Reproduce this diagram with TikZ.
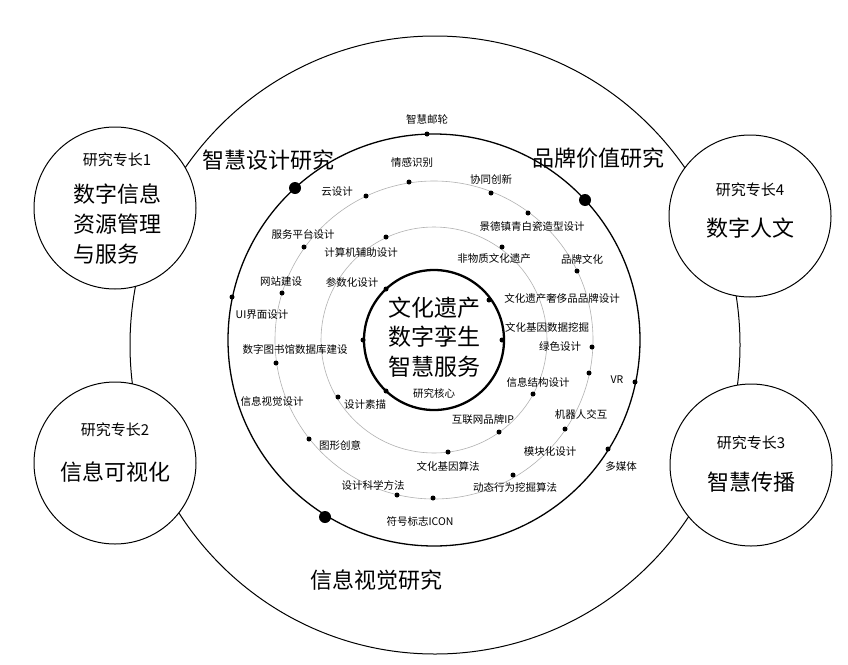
\documentclass[tikz,border=0pt]{standalone}
\usepackage{fontspec}
\setmainfont{Noto Sans CJK SC}
\begin{document}
\begin{tikzpicture}[x=1pt,y=-1pt,
  sm/.style={font=\fontsize{10.5}{12}\selectfont,inner sep=0pt},
  big/.style={font=\fontsize{22}{26}\selectfont,inner sep=0pt},
  tag/.style={font=\fontsize{15}{18}\selectfont,inner sep=0pt},
  side/.style={draw,circle,minimum size=162pt,fill=white,line width=1pt,inner sep=0pt},
  dot/.style={fill=black,draw=none,circle,minimum size=5pt,inner sep=0pt},
  bigdot/.style={fill=black,draw=none,circle,minimum size=12pt,inner sep=0pt}]
\useasboundingbox (0,0) rectangle (848,664);
\fill[white] (0,0) rectangle (848,664);
\coordinate (c) at (434,340);
\draw[line width=1pt] (435,345) ellipse [x radius=305, y radius=309];
\draw[line width=1.3pt] (c) circle [radius=206];
\draw[gray!60,line width=0.6pt] (c) circle [radius=159];
\draw[gray!60,line width=0.6pt] (c) circle [radius=113];
\draw[line width=2.3pt] (c) circle [radius=70];
% side circles
\node[side] (s1) at (115,208) {};
\node[side] (s2) at (115,463) {};
\node[side] (s4) at (750,216) {};
\node[side] (s3) at (751,465) {};
\node[tag] (s1t) at (117,160) {研究专长1};
\node[big,align=left,font=\fontsize{22}{30}\selectfont] (s1b) at (117,224) {数字信息\\资源管理\\与服务};
\node[tag] (s2t) at (115,430) {研究专长2};
\node[big] (s2b) at (115,472) {信息可视化};
\node[tag] (s4t) at (750,190) {研究专长4};
\node[big] (s4b) at (750,228) {数字人文};
\node[tag] (s3t) at (751,443) {研究专长3};
\node[big] (s3b) at (751,482) {智慧传播};
% region titles
\node[big] (r1) at (268,160) {智慧设计研究};
\node[big] (r2) at (598,158) {品牌价值研究};
\node[big] (r3) at (376,580) {信息视觉研究};
% core
\node[big,align=center,font=\fontsize{23}{29.5}\selectfont] (core) at (434,337) {文化遗产\\数字孪生\\智慧服务};
\node[sm] (hx) at (434,393) {研究核心};
% outer black circle dots
\node[dot] (d1) at (427,134) {}; \node[sm] at (427,119) {智慧邮轮};
\node[bigdot] (b1) at (295,188) {};
\node[bigdot] (b2) at (585,200) {};
\node[bigdot] (b3) at (325,517) {};
\node[dot] (d2) at (232,297) {}; \node[sm] at (262,315) {UI界面设计};
\node[dot] (d3) at (635,382) {}; \node[sm] at (617,380) {VR};
\node[dot] (d4) at (608,449) {}; \node[sm] at (621,467) {多媒体};
% outer grey dots
\node[dot] at (409,182) {}; \node[sm] at (412,163) {情感识别};
\node[dot] at (366,196) {}; \node[sm] at (337,192) {云设计};
\node[dot] at (491,193) {}; \node[sm] at (491,179) {协同创新};
\node[dot] at (528,213) {}; \node[sm] at (532,227) {景德镇青白瓷造型设计};
\node[dot] at (304,247) {}; \node[sm] at (303,235) {服务平台设计};
\node[dot] at (577,271) {}; \node[sm] at (582,259) {品牌文化};
\node[dot] at (282,293) {}; \node[sm] at (281,282) {网站建设};
\node[dot] at (276,363) {}; \node[sm] at (295,349) {数字图书馆数据库建设};
\node[dot] at (592,347) {}; \node[sm] at (560,347) {绿色设计};
\node[dot] at (589,373) {};
\node[sm] at (272,401) {信息视觉设计};
\node[dot] at (565,429) {}; \node[sm] at (581,414) {机器人交互};
\node[dot] at (309,439) {}; \node[sm] at (340,445) {图形创意};
\node[sm] at (550,452) {模块化设计};
\node[dot] at (513,475) {}; \node[sm] at (515,487) {动态行为挖掘算法};
\node[dot] at (397,495) {}; \node[sm] at (373,485) {设计科学方法};
\node[dot] at (433,498) {}; \node[sm] at (420,521) {符号标志ICON};
% inner grey dots
\node[dot] at (386,237) {}; \node[sm] at (361,252) {计算机辅助设计};
\node[dot] at (502,247) {}; \node[sm] at (494,259) {非物质文化遗产};
\node[dot] at (338,397) {}; \node[sm] at (365,405) {设计素描};
\node[dot] at (533,394) {}; \node[sm] at (538,382) {信息结构设计};
\node[dot] at (499,432) {}; \node[sm] at (483,420) {互联网品牌IP};
\node[dot] at (448,452) {}; \node[sm] at (448,466) {文化基因算法};
% inner black dots
\node[dot] at (386,289) {}; \node[sm] at (352,282) {参数化设计};
\node[dot] at (489,300) {}; \node[sm] at (562,299) {文化遗产奢侈品品牌设计};
\node[dot] at (363,340) {};
\node[dot] at (502,340) {}; \node[sm] at (547,327) {文化基因数据挖掘};
\node[dot] at (386,391) {};
\end{tikzpicture}
\end{document}
